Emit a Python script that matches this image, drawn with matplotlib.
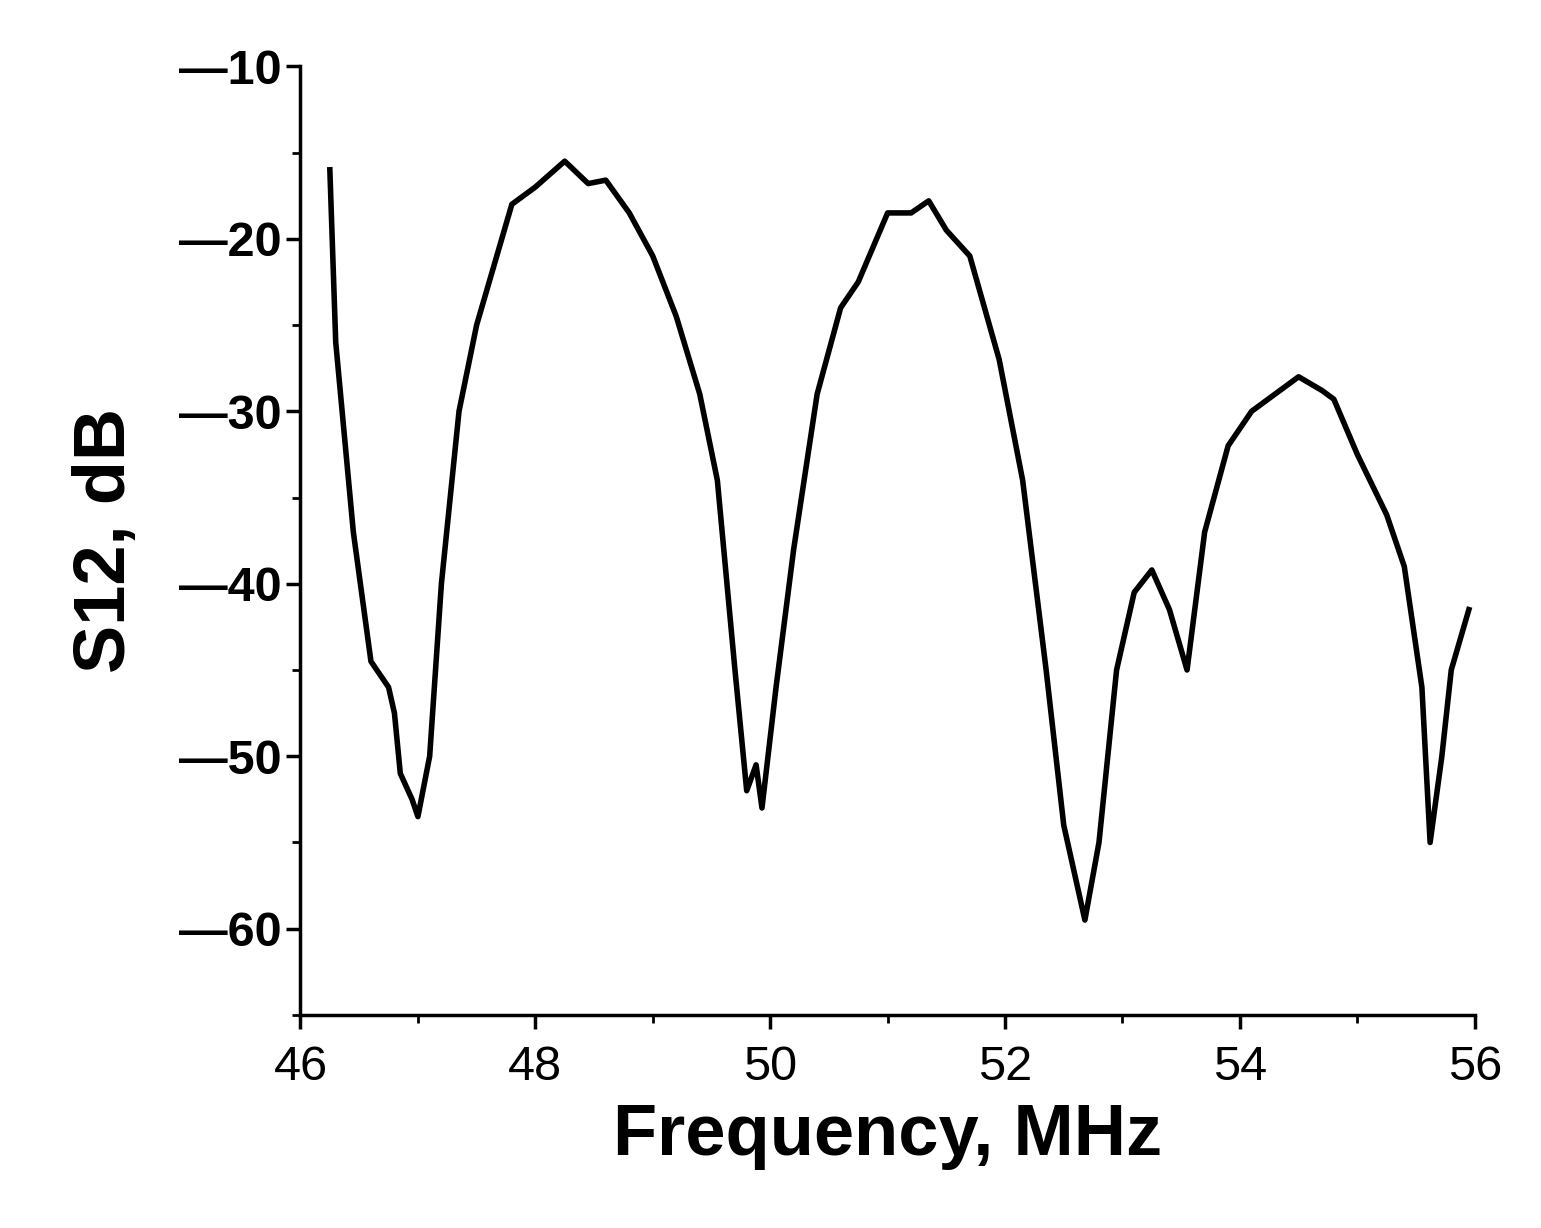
import matplotlib
matplotlib.use("Agg")
import matplotlib.pyplot as plt
from matplotlib.ticker import MultipleLocator

freq = [46.25,46.3,46.45,46.6,46.75,46.8,46.85,46.95,47.0,47.1,47.2,47.35,47.5,47.65,47.8,48.0,48.25,48.45,48.6,48.8,
        49.0,49.2,49.4,49.55,49.7,49.8,49.88,49.93,50.05,50.2,50.4,50.6,50.75,51.0,51.2,51.35,51.5,51.7,51.95,52.15,
        52.35,52.5,52.68,52.8,52.95,53.1,53.25,53.4,53.55,53.7,53.9,54.1,54.3,54.5,54.7,54.8,55.0,55.25,55.4,55.55,
        55.62,55.72,55.8,55.95]
s12 = [-16,-26,-37,-44.5,-46,-47.5,-51,-52.5,-53.5,-50,-40,-30,-25,-21.5,-18,-17,-15.5,-16.8,-16.6,-18.5,
       -21,-24.5,-29,-34,-45,-52,-50.5,-53,-46,-38,-29,-24,-22.5,-18.5,-18.5,-17.8,-19.5,-21,-27,-34,
       -45,-54,-59.5,-55,-45,-40.5,-39.2,-41.5,-45,-37,-32,-30,-29,-28,-28.8,-29.3,-32.5,-36,-39,-46,
       -55,-50,-45,-41.5]
yticks = [-10,-20,-30,-40,-50,-60]
xticks = [46,48,50,52,54,56]

plt.rcParams['font.family'] = ['Liberation Sans', 'DejaVu Sans']
fig = plt.figure(figsize=(15.41,12.28), dpi=100)
ax = fig.add_axes([0.195,0.1735,0.762,0.7725])
ax.plot(freq, s12, color='black', lw=4, solid_joinstyle='round')
ax.set_xlim(46,56); ax.set_ylim(-65,-10)
ax.set_xticks(xticks); ax.set_yticks(yticks)
ax.set_yticklabels([f"\u2014{abs(v)}" for v in yticks], fontweight='bold')
ax.xaxis.set_minor_locator(MultipleLocator(1))
ax.yaxis.set_minor_locator(MultipleLocator(5))
ax.tick_params(axis='both', labelsize=35, width=2.5, length=10, direction='out')
ax.tick_params(axis='x', pad=12)
ax.tick_params(axis='both', which='minor', length=6, width=2)
for s in ['top','right']:
    ax.spines[s].set_visible(False)
for s in ['left','bottom']:
    ax.spines[s].set_linewidth(2.5)
ax.set_xlabel("Frequency, MHz", fontsize=52, fontweight='bold', labelpad=8)
ax.set_ylabel("S12, dB", fontsize=52, fontweight='bold', labelpad=28)
fig.savefig("out.png", dpi=100)
